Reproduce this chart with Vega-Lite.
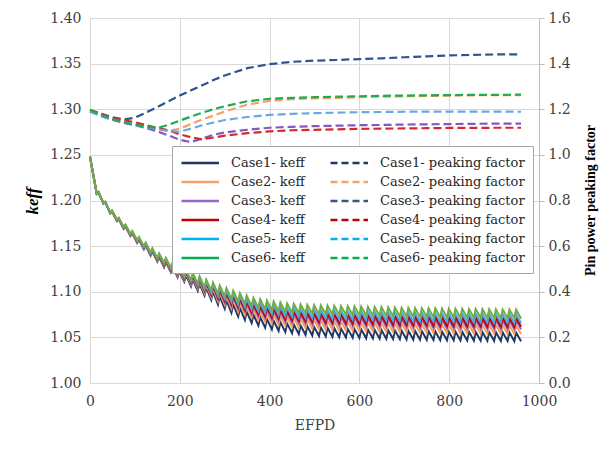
{
"$schema": "https://vega.github.io/schema/vega-lite/v6.json",
"width": 449, "height": 365,
"autosize": {"type": "none"},
"padding": {"left": 90, "top": 18, "right": 67, "bottom": 67},
"background": "white",
"config": {"view": {"stroke": null}},
"datasets": {
"keff": [
{"x":0,"k1":1.248,"k2":1.248,"k3":1.248,"k4":1.248,"k5":1.248,"k6":1.248},
{"x":15,"k1":1.2075,"k2":1.2075,"k3":1.2075,"k4":1.2075,"k5":1.2075,"k6":1.2075},
{"x":19,"k1":1.2090,"k2":1.2090,"k3":1.2090,"k4":1.2090,"k5":1.2090,"k6":1.2090},
{"x":30,"k1":1.1965,"k2":1.1967,"k3":1.1968,"k4":1.1968,"k5":1.1969,"k6":1.1970},
{"x":34,"k1":1.1980,"k2":1.1982,"k3":1.1983,"k4":1.1983,"k5":1.1984,"k6":1.1985},
{"x":45,"k1":1.1860,"k2":1.1863,"k3":1.1865,"k4":1.1866,"k5":1.1868,"k6":1.1870},
{"x":49,"k1":1.1880,"k2":1.1883,"k3":1.1885,"k4":1.1886,"k5":1.1888,"k6":1.1890},
{"x":60,"k1":1.1775,"k2":1.1780,"k3":1.1783,"k4":1.1785,"k5":1.1787,"k6":1.1790},
{"x":64,"k1":1.1795,"k2":1.1800,"k3":1.1803,"k4":1.1805,"k5":1.1807,"k6":1.1810},
{"x":75,"k1":1.1690,"k2":1.1696,"k3":1.1700,"k4":1.1703,"k5":1.1706,"k6":1.1710},
{"x":79,"k1":1.1715,"k2":1.1721,"k3":1.1725,"k4":1.1728,"k5":1.1731,"k6":1.1735},
{"x":90,"k1":1.1610,"k2":1.1618,"k3":1.1623,"k4":1.1626,"k5":1.1630,"k6":1.1635},
{"x":94,"k1":1.1640,"k2":1.1648,"k3":1.1653,"k4":1.1656,"k5":1.1660,"k6":1.1665},
{"x":105,"k1":1.1535,"k2":1.1544,"k3":1.1551,"k4":1.1554,"k5":1.1559,"k6":1.1565},
{"x":109,"k1":1.1570,"k2":1.1579,"k3":1.1586,"k4":1.1589,"k5":1.1594,"k6":1.1600},
{"x":120,"k1":1.1465,"k2":1.1475,"k3":1.1482,"k4":1.1486,"k5":1.1491,"k6":1.1498},
{"x":124,"k1":1.1505,"k2":1.1515,"k3":1.1522,"k4":1.1526,"k5":1.1531,"k6":1.1538},
{"x":135,"k1":1.1395,"k2":1.1406,"k3":1.1413,"k4":1.1417,"k5":1.1423,"k6":1.1430},
{"x":139,"k1":1.1440,"k2":1.1451,"k3":1.1458,"k4":1.1462,"k5":1.1468,"k6":1.1475},
{"x":150,"k1":1.1330,"k2":1.1342,"k3":1.1351,"k4":1.1356,"k5":1.1362,"k6":1.1370},
{"x":154,"k1":1.1380,"k2":1.1392,"k3":1.1401,"k4":1.1406,"k5":1.1412,"k6":1.1420},
{"x":165,"k1":1.1270,"k2":1.1284,"k3":1.1293,"k4":1.1299,"k5":1.1306,"k6":1.1315},
{"x":169,"k1":1.1325,"k2":1.1339,"k3":1.1348,"k4":1.1354,"k5":1.1361,"k6":1.1370},
{"x":180,"k1":1.1215,"k2":1.1230,"k3":1.1240,"k4":1.1245,"k5":1.1253,"k6":1.1263},
{"x":184,"k1":1.1275,"k2":1.1290,"k3":1.1300,"k4":1.1305,"k5":1.1313,"k6":1.1323},
{"x":195,"k1":1.1160,"k2":1.1176,"k3":1.1187,"k4":1.1194,"k5":1.1202,"k6":1.1213},
{"x":199,"k1":1.1225,"k2":1.1241,"k3":1.1252,"k4":1.1259,"k5":1.1267,"k6":1.1278},
{"x":210,"k1":1.1110,"k2":1.1129,"k3":1.1141,"k4":1.1148,"k5":1.1158,"k6":1.1170},
{"x":214,"k1":1.1180,"k2":1.1199,"k3":1.1211,"k4":1.1218,"k5":1.1228,"k6":1.1240},
{"x":225,"k1":1.1060,"k2":1.1081,"k3":1.1095,"k4":1.1103,"k5":1.1114,"k6":1.1128},
{"x":229,"k1":1.1135,"k2":1.1156,"k3":1.1170,"k4":1.1178,"k5":1.1189,"k6":1.1203},
{"x":240,"k1":1.1010,"k2":1.1034,"k3":1.1050,"k4":1.1060,"k5":1.1072,"k6":1.1088},
{"x":244,"k1":1.1090,"k2":1.1114,"k3":1.1130,"k4":1.1140,"k5":1.1152,"k6":1.1168},
{"x":255,"k1":1.0960,"k2":1.0987,"k3":1.1006,"k4":1.1016,"k5":1.1030,"k6":1.1048},
{"x":259,"k1":1.1045,"k2":1.1072,"k3":1.1091,"k4":1.1101,"k5":1.1115,"k6":1.1133},
{"x":270,"k1":1.0910,"k2":1.0941,"k3":1.0962,"k4":1.0974,"k5":1.0990,"k6":1.1010},
{"x":274,"k1":1.1000,"k2":1.1031,"k3":1.1052,"k4":1.1064,"k5":1.1080,"k6":1.1100},
{"x":285,"k1":1.0860,"k2":1.0897,"k3":1.0921,"k4":1.0935,"k5":1.0954,"k6":1.0978},
{"x":289,"k1":1.0950,"k2":1.0987,"k3":1.1011,"k4":1.1025,"k5":1.1044,"k6":1.1068},
{"x":300,"k1":1.0815,"k2":1.0857,"k3":1.0885,"k4":1.0901,"k5":1.0923,"k6":1.0950},
{"x":304,"k1":1.0905,"k2":1.0947,"k3":1.0975,"k4":1.0991,"k5":1.1013,"k6":1.1040},
{"x":315,"k1":1.0770,"k2":1.0817,"k3":1.0848,"k4":1.0866,"k5":1.0890,"k6":1.0920},
{"x":319,"k1":1.0860,"k2":1.0907,"k3":1.0938,"k4":1.0956,"k5":1.0980,"k6":1.1010},
{"x":330,"k1":1.0730,"k2":1.0781,"k3":1.0815,"k4":1.0834,"k5":1.0860,"k6":1.0893},
{"x":334,"k1":1.0820,"k2":1.0871,"k3":1.0905,"k4":1.0924,"k5":1.0950,"k6":1.0983},
{"x":345,"k1":1.0692,"k2":1.0747,"k3":1.0783,"k4":1.0804,"k5":1.0832,"k6":1.0867},
{"x":349,"k1":1.0782,"k2":1.0837,"k3":1.0873,"k4":1.0894,"k5":1.0922,"k6":1.0957},
{"x":360,"k1":1.0658,"k2":1.0716,"k3":1.0754,"k4":1.0776,"k5":1.0806,"k6":1.0843},
{"x":364,"k1":1.0748,"k2":1.0806,"k3":1.0844,"k4":1.0866,"k5":1.0896,"k6":1.0933},
{"x":375,"k1":1.0630,"k2":1.0691,"k3":1.0731,"k4":1.0755,"k5":1.0786,"k6":1.0825},
{"x":379,"k1":1.0722,"k2":1.0783,"k3":1.0823,"k4":1.0847,"k5":1.0878,"k6":1.0917},
{"x":390,"k1":1.0607,"k2":1.0670,"k3":1.0712,"k4":1.0737,"k5":1.0769,"k6":1.0810},
{"x":394,"k1":1.0701,"k2":1.0764,"k3":1.0806,"k4":1.0831,"k5":1.0863,"k6":1.0904},
{"x":405,"k1":1.0588,"k2":1.0654,"k3":1.0697,"k4":1.0722,"k5":1.0756,"k6":1.0798},
{"x":409,"k1":1.0683,"k2":1.0749,"k3":1.0792,"k4":1.0817,"k5":1.0851,"k6":1.0893},
{"x":420,"k1":1.0572,"k2":1.0639,"k3":1.0684,"k4":1.0710,"k5":1.0744,"k6":1.0787},
{"x":424,"k1":1.0667,"k2":1.0734,"k3":1.0779,"k4":1.0805,"k5":1.0839,"k6":1.0882},
{"x":435,"k1":1.0558,"k2":1.0627,"k3":1.0672,"k4":1.0699,"k5":1.0734,"k6":1.0778},
{"x":439,"k1":1.0653,"k2":1.0722,"k3":1.0767,"k4":1.0794,"k5":1.0829,"k6":1.0873},
{"x":450,"k1":1.0546,"k2":1.0616,"k3":1.0663,"k4":1.0690,"k5":1.0726,"k6":1.0771},
{"x":454,"k1":1.0641,"k2":1.0711,"k3":1.0758,"k4":1.0785,"k5":1.0821,"k6":1.0866},
{"x":465,"k1":1.0536,"k2":1.0608,"k3":1.0656,"k4":1.0683,"k5":1.0720,"k6":1.0766},
{"x":469,"k1":1.0631,"k2":1.0703,"k3":1.0751,"k4":1.0778,"k5":1.0815,"k6":1.0861},
{"x":480,"k1":1.0528,"k2":1.0601,"k3":1.0650,"k4":1.0678,"k5":1.0715,"k6":1.0762},
{"x":484,"k1":1.0623,"k2":1.0696,"k3":1.0745,"k4":1.0773,"k5":1.0810,"k6":1.0857},
{"x":495,"k1":1.0521,"k2":1.0595,"k3":1.0645,"k4":1.0673,"k5":1.0711,"k6":1.0759},
{"x":499,"k1":1.0616,"k2":1.0690,"k3":1.0740,"k4":1.0768,"k5":1.0806,"k6":1.0854},
{"x":510,"k1":1.0515,"k2":1.0590,"k3":1.0640,"k4":1.0669,"k5":1.0707,"k6":1.0755},
{"x":514,"k1":1.0610,"k2":1.0685,"k3":1.0735,"k4":1.0764,"k5":1.0802,"k6":1.0850},
{"x":525,"k1":1.0510,"k2":1.0586,"k3":1.0636,"k4":1.0665,"k5":1.0704,"k6":1.0753},
{"x":529,"k1":1.0605,"k2":1.0681,"k3":1.0731,"k4":1.0760,"k5":1.0799,"k6":1.0848},
{"x":540,"k1":1.0506,"k2":1.0582,"k3":1.0633,"k4":1.0663,"k5":1.0702,"k6":1.0751},
{"x":544,"k1":1.0601,"k2":1.0677,"k3":1.0728,"k4":1.0758,"k5":1.0797,"k6":1.0846},
{"x":555,"k1":1.0502,"k2":1.0579,"k3":1.0630,"k4":1.0660,"k5":1.0699,"k6":1.0748},
{"x":559,"k1":1.0597,"k2":1.0674,"k3":1.0725,"k4":1.0755,"k5":1.0794,"k6":1.0843},
{"x":570,"k1":1.0499,"k2":1.0576,"k3":1.0628,"k4":1.0657,"k5":1.0697,"k6":1.0747},
{"x":574,"k1":1.0594,"k2":1.0671,"k3":1.0723,"k4":1.0752,"k5":1.0792,"k6":1.0842},
{"x":585,"k1":1.0496,"k2":1.0574,"k3":1.0625,"k4":1.0655,"k5":1.0695,"k6":1.0745},
{"x":589,"k1":1.0591,"k2":1.0669,"k3":1.0720,"k4":1.0750,"k5":1.0790,"k6":1.0840},
{"x":600,"k1":1.0493,"k2":1.0571,"k3":1.0623,"k4":1.0653,"k5":1.0693,"k6":1.0743},
{"x":604,"k1":1.0588,"k2":1.0666,"k3":1.0718,"k4":1.0748,"k5":1.0788,"k6":1.0838},
{"x":615,"k1":1.0490,"k2":1.0568,"k3":1.0620,"k4":1.0650,"k5":1.0690,"k6":1.0740},
{"x":619,"k1":1.0585,"k2":1.0663,"k3":1.0715,"k4":1.0745,"k5":1.0785,"k6":1.0835},
{"x":630,"k1":1.0488,"k2":1.0566,"k3":1.0618,"k4":1.0648,"k5":1.0688,"k6":1.0738},
{"x":634,"k1":1.0583,"k2":1.0661,"k3":1.0713,"k4":1.0743,"k5":1.0783,"k6":1.0833},
{"x":645,"k1":1.0486,"k2":1.0564,"k3":1.0616,"k4":1.0646,"k5":1.0686,"k6":1.0736},
{"x":649,"k1":1.0581,"k2":1.0659,"k3":1.0711,"k4":1.0741,"k5":1.0781,"k6":1.0831},
{"x":660,"k1":1.0484,"k2":1.0562,"k3":1.0614,"k4":1.0644,"k5":1.0684,"k6":1.0734},
{"x":664,"k1":1.0579,"k2":1.0657,"k3":1.0709,"k4":1.0739,"k5":1.0779,"k6":1.0829},
{"x":675,"k1":1.0482,"k2":1.0560,"k3":1.0612,"k4":1.0642,"k5":1.0682,"k6":1.0732},
{"x":679,"k1":1.0577,"k2":1.0655,"k3":1.0707,"k4":1.0737,"k5":1.0777,"k6":1.0827},
{"x":690,"k1":1.0480,"k2":1.0558,"k3":1.0610,"k4":1.0640,"k5":1.0680,"k6":1.0730},
{"x":694,"k1":1.0575,"k2":1.0653,"k3":1.0705,"k4":1.0735,"k5":1.0775,"k6":1.0825},
{"x":705,"k1":1.0478,"k2":1.0556,"k3":1.0608,"k4":1.0638,"k5":1.0678,"k6":1.0728},
{"x":709,"k1":1.0573,"k2":1.0651,"k3":1.0703,"k4":1.0733,"k5":1.0773,"k6":1.0823},
{"x":720,"k1":1.0476,"k2":1.0554,"k3":1.0606,"k4":1.0636,"k5":1.0676,"k6":1.0726},
{"x":724,"k1":1.0571,"k2":1.0649,"k3":1.0701,"k4":1.0731,"k5":1.0771,"k6":1.0821},
{"x":735,"k1":1.0474,"k2":1.0552,"k3":1.0604,"k4":1.0634,"k5":1.0674,"k6":1.0724},
{"x":739,"k1":1.0569,"k2":1.0647,"k3":1.0699,"k4":1.0729,"k5":1.0769,"k6":1.0819},
{"x":750,"k1":1.0473,"k2":1.0551,"k3":1.0603,"k4":1.0633,"k5":1.0673,"k6":1.0723},
{"x":754,"k1":1.0568,"k2":1.0646,"k3":1.0698,"k4":1.0728,"k5":1.0768,"k6":1.0818},
{"x":765,"k1":1.0472,"k2":1.0550,"k3":1.0602,"k4":1.0632,"k5":1.0672,"k6":1.0722},
{"x":769,"k1":1.0567,"k2":1.0645,"k3":1.0697,"k4":1.0727,"k5":1.0767,"k6":1.0817},
{"x":780,"k1":1.0470,"k2":1.0548,"k3":1.0600,"k4":1.0630,"k5":1.0670,"k6":1.0720},
{"x":784,"k1":1.0565,"k2":1.0643,"k3":1.0695,"k4":1.0725,"k5":1.0765,"k6":1.0815},
{"x":795,"k1":1.0469,"k2":1.0547,"k3":1.0599,"k4":1.0629,"k5":1.0669,"k6":1.0719},
{"x":799,"k1":1.0564,"k2":1.0642,"k3":1.0694,"k4":1.0724,"k5":1.0764,"k6":1.0814},
{"x":810,"k1":1.0468,"k2":1.0546,"k3":1.0598,"k4":1.0628,"k5":1.0668,"k6":1.0718},
{"x":814,"k1":1.0563,"k2":1.0641,"k3":1.0693,"k4":1.0723,"k5":1.0763,"k6":1.0813},
{"x":825,"k1":1.0467,"k2":1.0545,"k3":1.0597,"k4":1.0627,"k5":1.0667,"k6":1.0717},
{"x":829,"k1":1.0562,"k2":1.0640,"k3":1.0692,"k4":1.0722,"k5":1.0762,"k6":1.0812},
{"x":840,"k1":1.0466,"k2":1.0544,"k3":1.0596,"k4":1.0626,"k5":1.0666,"k6":1.0716},
{"x":844,"k1":1.0561,"k2":1.0639,"k3":1.0691,"k4":1.0721,"k5":1.0761,"k6":1.0811},
{"x":855,"k1":1.0465,"k2":1.0543,"k3":1.0595,"k4":1.0625,"k5":1.0665,"k6":1.0715},
{"x":859,"k1":1.0560,"k2":1.0638,"k3":1.0690,"k4":1.0720,"k5":1.0760,"k6":1.0810},
{"x":870,"k1":1.0464,"k2":1.0542,"k3":1.0594,"k4":1.0624,"k5":1.0664,"k6":1.0714},
{"x":874,"k1":1.0559,"k2":1.0637,"k3":1.0689,"k4":1.0719,"k5":1.0759,"k6":1.0809},
{"x":885,"k1":1.0463,"k2":1.0541,"k3":1.0593,"k4":1.0623,"k5":1.0663,"k6":1.0713},
{"x":889,"k1":1.0558,"k2":1.0636,"k3":1.0688,"k4":1.0718,"k5":1.0758,"k6":1.0808},
{"x":900,"k1":1.0462,"k2":1.0540,"k3":1.0592,"k4":1.0622,"k5":1.0662,"k6":1.0712},
{"x":904,"k1":1.0557,"k2":1.0635,"k3":1.0687,"k4":1.0717,"k5":1.0757,"k6":1.0807},
{"x":915,"k1":1.0461,"k2":1.0539,"k3":1.0591,"k4":1.0621,"k5":1.0661,"k6":1.0711},
{"x":919,"k1":1.0556,"k2":1.0634,"k3":1.0686,"k4":1.0716,"k5":1.0756,"k6":1.0806},
{"x":930,"k1":1.0460,"k2":1.0538,"k3":1.0590,"k4":1.0620,"k5":1.0660,"k6":1.0710},
{"x":934,"k1":1.0555,"k2":1.0633,"k3":1.0685,"k4":1.0715,"k5":1.0755,"k6":1.0805},
{"x":945,"k1":1.0459,"k2":1.0537,"k3":1.0589,"k4":1.0619,"k5":1.0659,"k6":1.0709},
{"x":949,"k1":1.0554,"k2":1.0632,"k3":1.0684,"k4":1.0714,"k5":1.0754,"k6":1.0804},
{"x":960,"k1":1.0458,"k2":1.0536,"k3":1.0588,"k4":1.0618,"k5":1.0658,"k6":1.0708}
],
"pf": [
{"x":0,"p1":1.197,"p2":1.19,"p3":1.19,"p4":1.197,"p5":1.19,"p6":1.197},
{"x":25,"p1":1.180,"p2":1.172,"p3":1.170,"p4":1.178,"p5":1.170,"p6":1.175},
{"x":50,"p1":1.165,"p2":1.155,"p3":1.153,"p4":1.163,"p5":1.155,"p6":1.157},
{"x":75,"p1":1.155,"p2":1.142,"p3":1.140,"p4":1.152,"p5":1.142,"p6":1.143},
{"x":100,"p1":1.163,"p2":1.132,"p3":1.130,"p4":1.143,"p5":1.132,"p6":1.133},
{"x":125,"p1":1.185,"p2":1.122,"p3":1.118,"p4":1.130,"p5":1.122,"p6":1.124},
{"x":150,"p1":1.210,"p2":1.112,"p3":1.103,"p4":1.118,"p5":1.113,"p6":1.118},
{"x":175,"p1":1.235,"p2":1.105,"p3":1.085,"p4":1.108,"p5":1.104,"p6":1.132},
{"x":200,"p1":1.260,"p2":1.115,"p3":1.066,"p4":1.090,"p5":1.102,"p6":1.150},
{"x":225,"p1":1.283,"p2":1.135,"p3":1.056,"p4":1.077,"p5":1.115,"p6":1.168},
{"x":250,"p1":1.305,"p2":1.155,"p3":1.072,"p4":1.068,"p5":1.130,"p6":1.185},
{"x":275,"p1":1.328,"p2":1.172,"p3":1.088,"p4":1.076,"p5":1.142,"p6":1.200},
{"x":300,"p1":1.348,"p2":1.190,"p3":1.098,"p4":1.084,"p5":1.153,"p6":1.213},
{"x":350,"p1":1.380,"p2":1.220,"p3":1.110,"p4":1.095,"p5":1.166,"p6":1.235},
{"x":400,"p1":1.398,"p2":1.237,"p3":1.119,"p4":1.103,"p5":1.175,"p6":1.246},
{"x":450,"p1":1.408,"p2":1.244,"p3":1.123,"p4":1.108,"p5":1.180,"p6":1.250},
{"x":500,"p1":1.413,"p2":1.248,"p3":1.126,"p4":1.110,"p5":1.183,"p6":1.253},
{"x":550,"p1":1.416,"p2":1.250,"p3":1.128,"p4":1.112,"p5":1.185,"p6":1.255},
{"x":600,"p1":1.420,"p2":1.253,"p3":1.130,"p4":1.114,"p5":1.187,"p6":1.257},
{"x":650,"p1":1.423,"p2":1.255,"p3":1.131,"p4":1.115,"p5":1.188,"p6":1.259},
{"x":700,"p1":1.428,"p2":1.257,"p3":1.133,"p4":1.116,"p5":1.189,"p6":1.260},
{"x":750,"p1":1.432,"p2":1.258,"p3":1.134,"p4":1.117,"p5":1.190,"p6":1.261},
{"x":800,"p1":1.436,"p2":1.260,"p3":1.135,"p4":1.118,"p5":1.190,"p6":1.262},
{"x":850,"p1":1.438,"p2":1.261,"p3":1.136,"p4":1.118,"p5":1.190,"p6":1.263},
{"x":900,"p1":1.440,"p2":1.262,"p3":1.137,"p4":1.119,"p5":1.190,"p6":1.263},
{"x":960,"p1":1.441,"p2":1.262,"p3":1.137,"p4":1.119,"p5":1.189,"p6":1.264}
]
},
"encoding": {
"x": {"field": "x", "type": "quantitative", "scale": {"domain": [0, 1000], "nice": false},
 "axis": {"values": [0,200,400,600,800,1000], "format": "d", "title": "EFPD", "labelFont": "DejaVu Serif", "titleFont": "DejaVu Serif", "labelFontSize": 14, "labelColor": "#404040", "titleFontSize": 14, "titleFontWeight": "normal", "titleColor": "#404040", "grid": true, "gridColor": "#d9d9d9", "ticks": false, "domainColor": "#d9d9d9", "labelPadding": 11, "titlePadding": 10, "labelFlush": false}}
},
"layer": [
{
"data": {"name": "keff"},
"transform": [{"fold": ["k1","k2","k3","k4","k5","k6"], "as": ["s","v"]}],
"mark": {"type": "line", "strokeWidth": 0.5},
"encoding": {
 "y": {"field": "v", "type": "quantitative", "scale": {"domain": [1.0, 1.4], "nice": false, "zero": false},
  "axis": {"orient": "left", "values": [1.0,1.05,1.1,1.15,1.2,1.25,1.3,1.35,1.4], "format": ".2f", "title": "keff", "labelFont": "DejaVu Serif", "titleFont": "Liberation Serif", "titleFontStyle": "italic", "titleFontWeight": "bold", "titleFontSize": 17, "titleColor": "black", "labelFontSize": 14, "labelColor": "#404040", "grid": true, "gridColor": "#d9d9d9", "ticks": false, "domainColor": "#d9d9d9", "labelPadding": 9, "titlePadding": 8}},
 "color": {"field": "s", "type": "nominal",
  "scale": {"domain": ["k1","k2","k3","k4","k5","k6","p1","p2","p3","p4","p5","p6"],
   "range": ["#1f3864","#f4a16a","#9966cc","#c00000","#00b0f0","#00b050","#1f3864","#f4a16a","#3e5483","#c00000","#00b0f0","#00b050"]},
  "legend": {"title": null, "orient": "none", "legendX": 82, "legendY": 128, "columns": 2, "symbolType": "M-1,0H4", "symbolSize": 225, "symbolStrokeWidth": 2.5, "symbolOpacity": 1, "labelFontSize": 13, "labelFont": "DejaVu Serif", "labelColor": "#262626", "labelOffset": 33, "rowPadding": 3, "columnPadding": 20, "padding": 8, "strokeColor": "#a6a6a6", "fillColor": "white", "labelLimit": 300,
   "labelExpr": "{'k1':'Case1- keff','p1':'Case1- peaking factor','k2':'Case2- keff','p2':'Case2- peaking factor','k3':'Case3- keff','p3':'Case3- peaking factor','k4':'Case4- keff','p4':'Case4- peaking factor','k5':'Case5- keff','p5':'Case5- peaking factor','k6':'Case6- keff','p6':'Case6- peaking factor'}[datum.label]"}},
 "strokeDash": {"field": "s", "type": "nominal",
  "scale": {"domain": ["k1","k2","k3","k4","k5","k6","p1","p2","p3","p4","p5","p6"],
   "range": [[1,0],[1,0],[1,0],[1,0],[1,0],[1,0],[7,4],[7,4],[7,4],[7,4],[7,4],[7,4]]}}
}
},
{
"data": {"name": "keff"},
"transform": [{"fold": ["k1","k2","k3","k4","k5","k6"], "as": ["s","v"]}],
"mark": {"type": "line", "strokeWidth": 2},
"encoding": {
 "y": {"field": "v", "type": "quantitative", "scale": {"domain": [1.0, 1.4], "nice": false, "zero": false}, "axis": null},
 "color": {"field": "s", "type": "nominal", "scale": {"domain": ["k1","k2","k3","k4","k5","k6"], "range": ["#1f3864","#f4a063","#8d5fc0","#c00000","#4aa8e8","#70ad47"]}, "legend": null}
}
},
{
"data": {"name": "pf"},
"transform": [{"fold": ["p1","p2","p3","p4","p5","p6"], "as": ["s","v"]}],
"mark": {"type": "line", "strokeWidth": 2.2, "strokeDash": [8,4]},
"encoding": {
 "y": {"field": "v", "type": "quantitative", "scale": {"domain": [0, 1.6], "nice": false, "zero": false},
  "axis": {"orient": "right", "values": [0,0.2,0.4,0.6,0.8,1.0,1.2,1.4,1.6], "format": ".1f", "title": "Pin power peaking factor", "labelFont": "DejaVu Serif", "titleFont": "Liberation Serif", "titleFontWeight": "bold", "titleFontSize": 14, "titleColor": "black", "titleAngle": 270, "titleX": 51, "titleY": 182, "titleAlign": "center", "titleBaseline": "middle", "grid": false, "ticks": true, "tickSize": 5, "tickColor": "#bfbfbf", "domainColor": "#bfbfbf", "labelFontSize": 14, "labelColor": "#404040", "labelPadding": 4}},
 "color": {"field": "s", "type": "nominal", "scale": {"domain": ["p1","p2","p3","p4","p5","p6"], "range": ["#2f5590","#f4a063","#8a55c0","#d42a2a","#6aa8e0","#22aa50"]}, "legend": null}
}
}
],
"resolve": {"scale": {"y": "independent", "color": "independent", "strokeDash": "independent"}}
}
